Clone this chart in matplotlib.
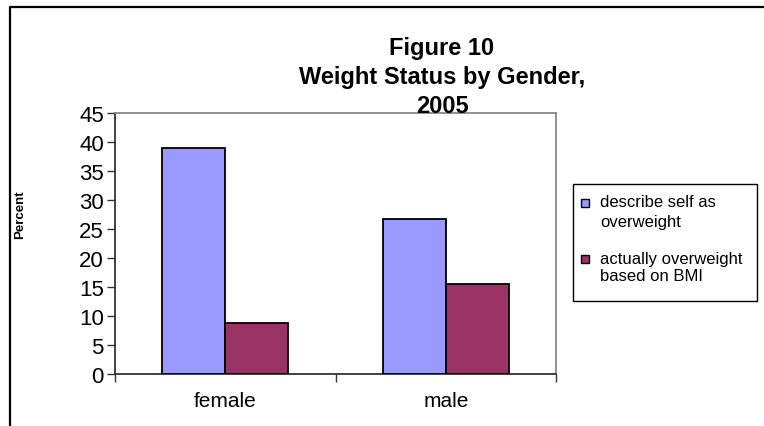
import matplotlib
matplotlib.use("Agg")
import matplotlib.pyplot as plt
from matplotlib.lines import Line2D
from matplotlib.patches import Rectangle
import numpy as np

plt.rcParams['font.family'] = ['Liberation Sans', 'DejaVu Sans']

# ---- data ----
categories = ["female", "male"]
series_names = ["describe self as\noverweight", "actually overweight\nbased on BMI"]
describe_self = [39.0, 26.8]
actual_bmi = [8.8, 15.5]
y_ticks = [0, 5, 10, 15, 20, 25, 30, 35, 40, 45]
title = "Figure 10\nWeight Status by Gender,\n2005"
y_label = "Percent"
colors = ["#9999FF", "#993366"]

W, H = 764, 427
fig = plt.figure(figsize=(W / 100, H / 100), dpi=100)


def fx(px):
    return px / W


def fy(py):
    return 1 - py / H


ax = fig.add_axes([fx(115), fy(375), fx(556) - fx(115), fy(114) - fy(375)])
x = np.arange(len(categories))
bw = 1 / 3.5
ax.bar(x - bw / 2, describe_self, bw, color=colors[0], edgecolor="black", linewidth=1.3, zorder=3)
ax.bar(x + bw / 2, actual_bmi, bw, color=colors[1], edgecolor="black", linewidth=1.3, zorder=3)
ax.set_xlim(-0.5, len(categories) - 0.5)
ax.set_ylim(0, 45)
ax.set_yticks(y_ticks)
ax.set_yticklabels([str(t) for t in y_ticks], fontsize=16)
ax.tick_params(axis='y', length=6, width=1, pad=2, color="#333333")
ax.set_xticks(np.arange(len(categories) + 1) - 0.5)
ax.set_xticklabels([])
ax.tick_params(axis='x', which='major', length=6, width=1, color="#333333")
ax.set_xticks(x, minor=True)
ax.set_xticklabels(categories, minor=True, fontsize=15)
ax.tick_params(axis='x', which='minor', length=0, pad=12)

for s in ["top", "right"]:
    ax.spines[s].set_color("#888888")
    ax.spines[s].set_linewidth(1.3)
for s in ["left", "bottom"]:
    ax.spines[s].set_color("#333333")
    ax.spines[s].set_linewidth(1.3)

# title
for i, line in enumerate(title.split("\n")):
    fig.text(fx(442), fy(55 + 29 * i), line, ha="center", va="baseline",
             fontsize=17, fontweight="bold")

# y label
fig.text(fx(20), fy(215), y_label, rotation=90, ha="center", va="center",
         fontsize=9.5, fontweight="bold")

# legend (manual, Excel-like)
fig.add_artist(Rectangle((fx(573), fy(302)), fx(757) - fx(573), fy(185) - fy(302),
                         transform=fig.transFigure, fill=False, edgecolor="black", linewidth=1))
sq = [(200, [207, 227]), (256, [264, 281])]
for (sy, baselines), name, c in zip(sq, series_names, colors):
    fig.add_artist(Rectangle((fx(581), fy(sy + 8)), fx(8), 8 / H, transform=fig.transFigure,
                             facecolor=c, edgecolor="black", linewidth=1))
    for b, ln in zip(baselines, name.split("\n")):
        fig.text(fx(600), fy(b), ln, ha="left", va="baseline", fontsize=12)

# outer chart frame
fig.add_artist(Line2D([fx(10), fx(10), 1.01], [-0.01, fy(8), fy(8)],
                      transform=fig.transFigure, color="black", linewidth=1.6))

fig.savefig("out.png", dpi=100)
